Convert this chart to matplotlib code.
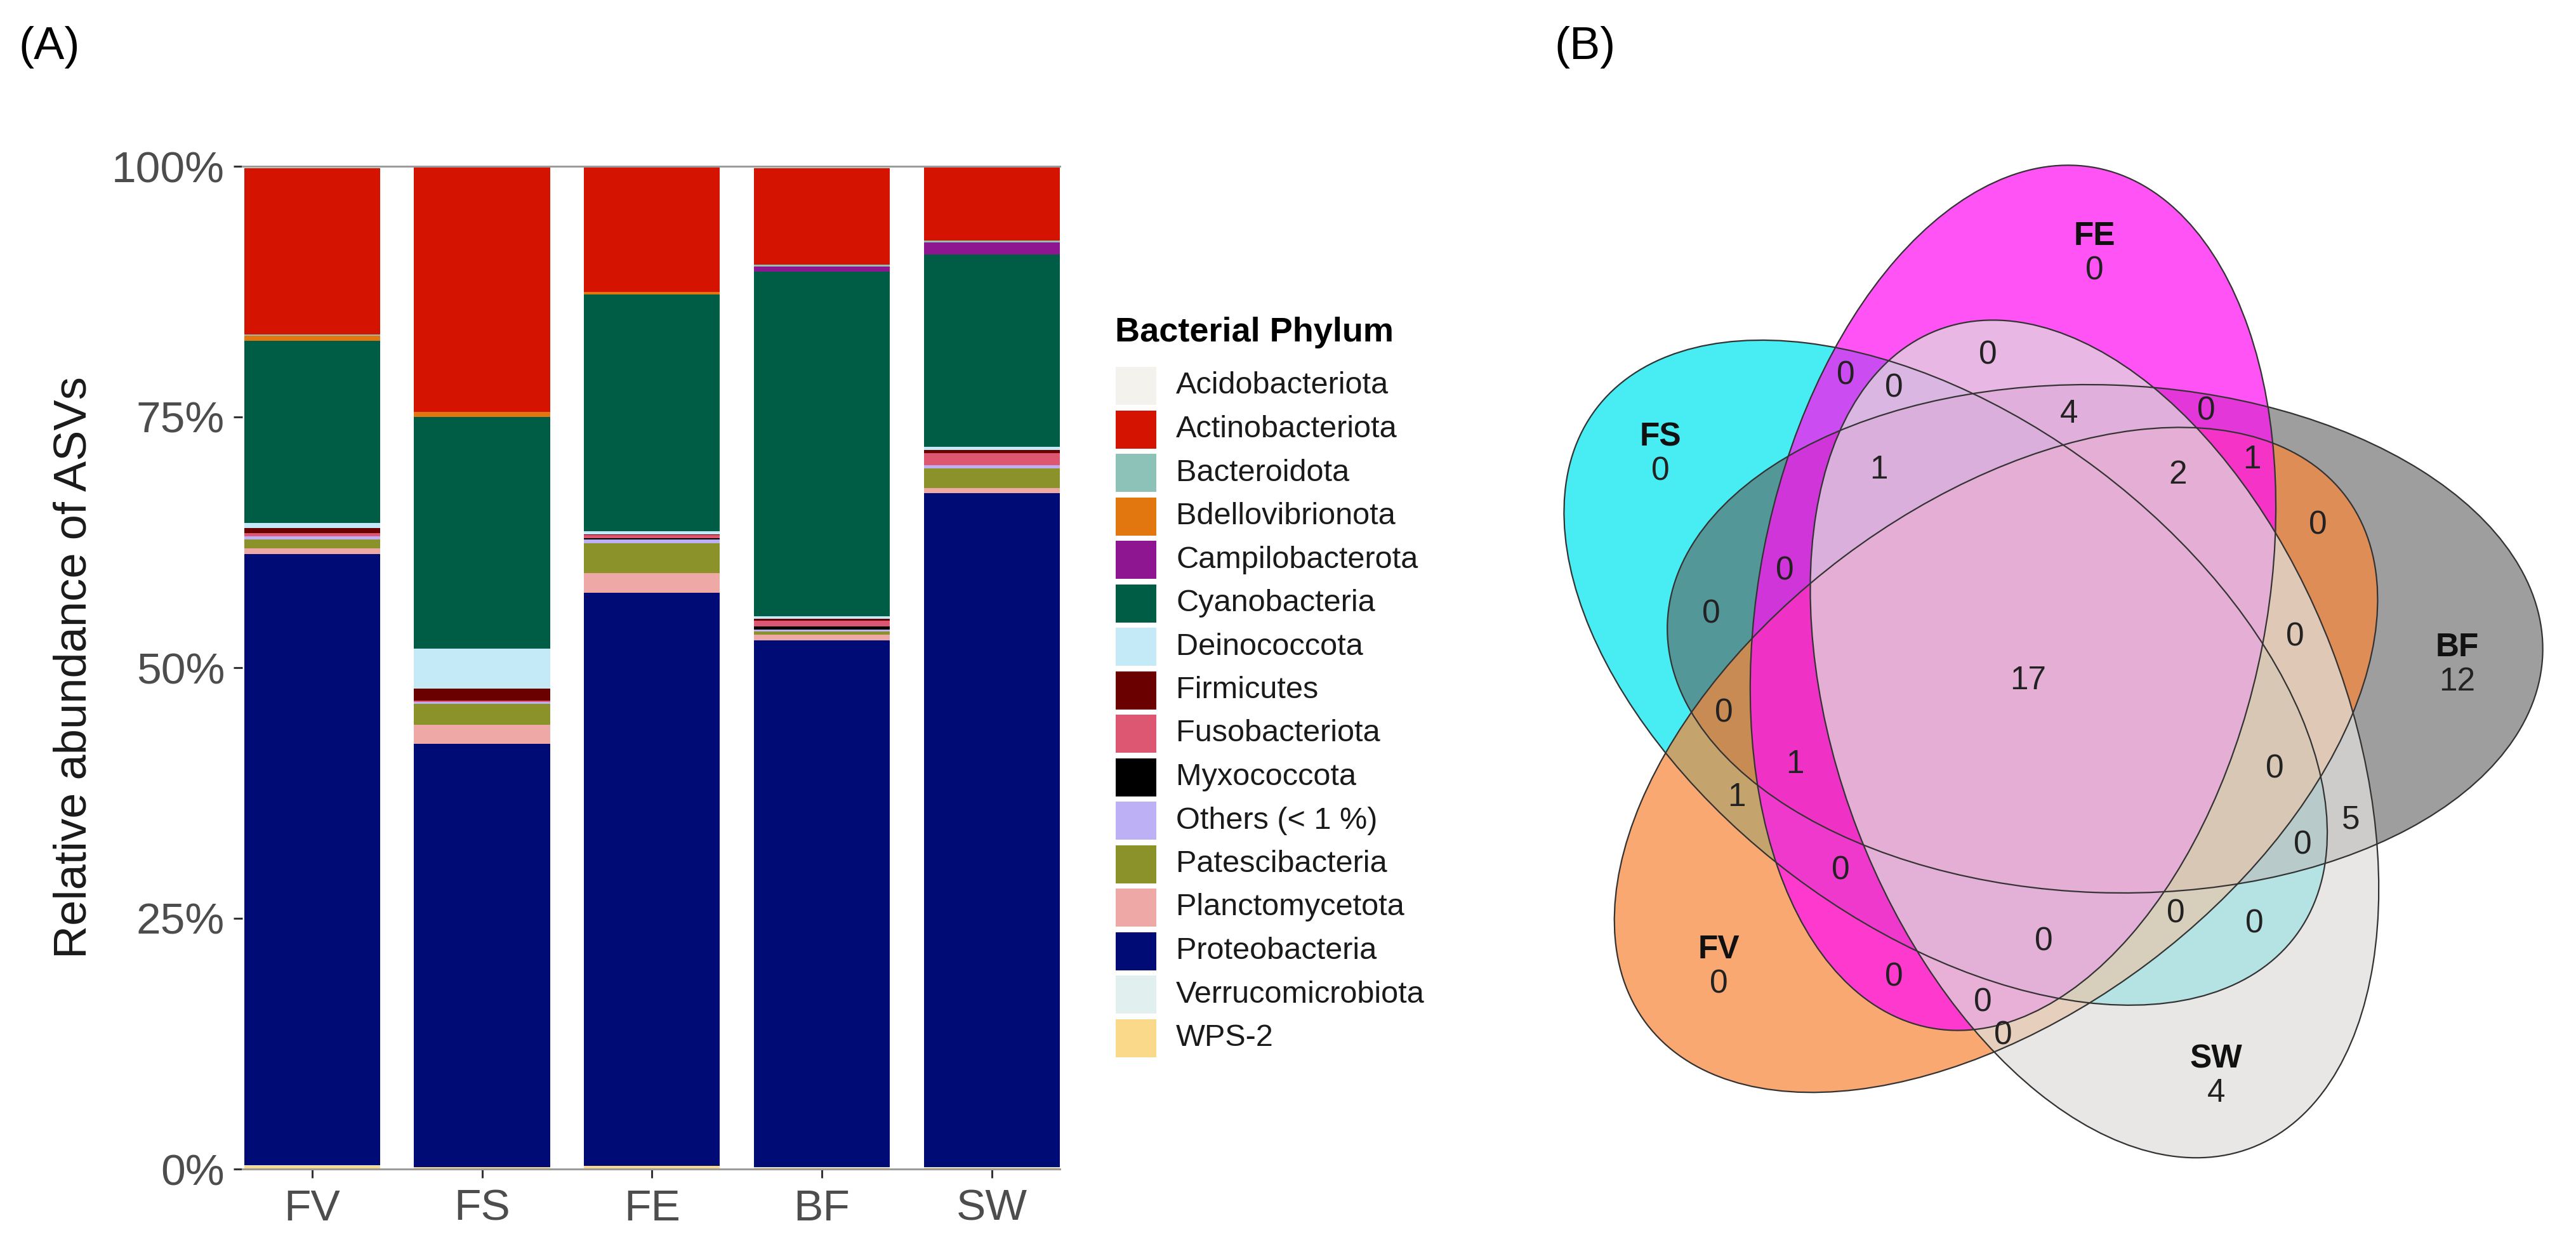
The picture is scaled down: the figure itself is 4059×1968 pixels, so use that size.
import numpy as np
import matplotlib.pyplot as plt
from matplotlib.patches import Ellipse, Rectangle

plt.rcParams['font.family'] = ['Liberation Sans', 'DejaVu Sans']

W, H = 4059, 1968
DPI = 200

# ---- (A) stacked bars: relative abundance (%) per sample ----
samples = ["FV", "FS", "FE", "BF", "SW"]
phyla = ["Acidobacteriota", "Actinobacteriota", "Bacteroidota", "Bdellovibrionota",
         "Campilobacterota", "Cyanobacteria", "Deinococcota", "Firmicutes",
         "Fusobacteriota", "Myxococcota", "Others (< 1 %)", "Patescibacteria",
         "Planctomycetota", "Proteobacteria", "Verrucomicrobiota", "WPS-2"]
phylum_colors = ["#F4F2EC", "#D41400", "#8CC2B7", "#E2760F", "#8E1691", "#005D45",
                 "#C3EAF6", "#6A0000", "#DD5672", "#000000", "#BDB0F5", "#8A9229",
                 "#EEA9A6", "#000B76", "#E1EFEE", "#FBD98B"]

acidobacteriota = [0.2, 0.0, 0.0, 0.2, 0.0]
actinobacteriota = [16.6, 24.5, 12.5, 9.6, 7.4]
bacteroidota = [0.1, 0.0, 0.0, 0.2, 0.2]
bdellovibrionota = [0.5, 0.5, 0.3, 0.0, 0.0]
campilobacterota = [0.0, 0.0, 0.0, 0.5, 1.2]
cyanobacteria = [18.2, 23.1, 23.6, 34.4, 19.2]
deinococcota = [0.5, 4.0, 0.3, 0.2, 0.3]
firmicutes = [0.5, 1.2, 0.1, 0.2, 0.3]
fusobacteriota = [0.3, 0.1, 0.3, 0.6, 1.2]
myxococcota = [0.0, 0.0, 0.1, 0.3, 0.0]
others = [0.3, 0.2, 0.4, 0.2, 0.3]
patescibacteria = [0.9, 2.1, 3.0, 0.3, 2.0]
planctomycetota = [0.6, 1.9, 1.9, 0.6, 0.5]
proteobacteria = [60.9, 42.2, 57.2, 52.5, 67.2]
verrucomicrobiota = [0.1, 0.0, 0.0, 0.1, 0.1]
wps2 = [0.3, 0.2, 0.3, 0.1, 0.1]

abundance = [acidobacteriota, actinobacteriota, bacteroidota, bdellovibrionota,
             campilobacterota, cyanobacteria, deinococcota, firmicutes,
             fusobacteriota, myxococcota, others, patescibacteria,
             planctomycetota, proteobacteria, verrucomicrobiota, wps2]

# ---- (B) Venn diagram: shared ASV counts ----
venn_sets = ["BF", "FE", "FS", "FV", "SW"]
venn_colors = ["#5E5E5E", "#FF10F2", "#00E6EF", "#F7873A", "#E0DFDC"]
venn_alpha = [0.6, 0.72, 0.72, 0.72, 0.72]
venn_draw_order = ["FS", "BF", "FV", "FE", "SW"]
venn_regions = [
    ("BF", 12), ("FE", 0), ("FS", 0), ("FV", 0), ("SW", 4),
    ("BF FE", 0), ("FE SW", 0), ("FE FS", 0), ("BF FS", 0), ("FS FV", 1),
    ("BF FV", 0), ("BF SW", 5), ("FS SW", 0), ("FV SW", 0), ("FE FV", 0),
    ("BF FE SW", 4), ("BF FE FV", 1), ("FE FS SW", 0), ("BF FE FS", 0),
    ("BF FS FV", 0), ("BF FV SW", 0), ("BF FS SW", 0), ("FS FV SW", 0),
    ("FE FV SW", 0), ("FE FS FV", 0),
    ("BF FE FV SW", 2), ("BF FE FS SW", 1), ("BF FE FS FV", 1),
    ("BF FS FV SW", 0), ("FE FS FV SW", 0),
    ("BF FE FS FV SW", 17),
]


def fx(x):
    return x / W


def fy(y):
    return 1 - y / H


fig = plt.figure(figsize=(W / DPI, H / DPI), dpi=DPI)

# bar panel
ax = fig.add_axes([fx(382), fy(1842), (1670 - 382) / W, (1842 - 262) / H])
x = np.arange(len(samples))
bottom = np.zeros(len(samples))
for name, color, vals in reversed(list(zip(phyla, phylum_colors, abundance))):
    vals = np.array(vals) / 100.0
    ax.bar(x, vals, width=0.8, bottom=bottom, color=color, linewidth=0)
    bottom += vals

ax.set_xlim(-0.41, 4.4)
ax.set_ylim(0, 1)
ax.set_xticks(x)
ax.set_xticklabels(samples)
ax.set_yticks([0, 0.25, 0.5, 0.75, 1.0])
ax.set_yticklabels(["0%", "25%", "50%", "75%", "100%"])
for side in ["left", "right"]:
    ax.spines[side].set_visible(False)
for side in ["top", "bottom"]:
    ax.spines[side].set_color("#9C9C9C")
    ax.spines[side].set_linewidth(1.1)
ax.tick_params(axis="both", length=5, width=1.1, color="#333333",
               labelcolor="#4D4D4D", labelsize=25)
ax.tick_params(axis="y", pad=5)
ax.tick_params(axis="x", pad=6)
fig.text(fx(117), fy(1052), "Relative abundance of ASVs", rotation=90,
         ha="center", va="center", fontsize=26, color="#1A1A1A")

# legend drawn by hand to sit like the ggplot guide
fig.text(fx(1757), fy(524), "Bacterial Phylum", fontsize=19.5,
         fontweight="bold", ha="left", va="center")
key_top, pitch, key_w, key_h = 578, 68.5, 64, 60
for i, (name, color) in enumerate(zip(phyla, phylum_colors)):
    top = key_top + i * pitch
    fig.add_artist(Rectangle((fx(1758), fy(top + key_h)), key_w / W, key_h / H,
                             transform=fig.transFigure, facecolor=color,
                             edgecolor="none"))
    fig.text(fx(1853), fy(top + key_h / 2), name, fontsize=17.5,
             ha="left", va="center", color="#1A1A1A")

fig.text(fx(30), fy(75), "(A)", fontsize=26, ha="left", va="center")
fig.text(fx(2450), fy(75), "(B)", fontsize=26, ha="left", va="center")

# Venn panel, axes units = pixels (y up)
vax = fig.add_axes([fx(2250), 0, (W - 2250) / W, 1])
vax.set_xlim(2250, W)
vax.set_ylim(0, H)
vax.axis("off")

G = np.array([3200.0, 894.0])
r_off, off_ang, ax_ang = 135.0, 30.0, 1.0
tilt = [-3.0, 6.0, -2.0, 0.0, 2.0]   # small per-ellipse tilt seen in the figure
ea, eb = 690.0, 400.0

geom = {}
for k, name in enumerate(venn_sets):
    t = np.deg2rad(off_ang + 72 * k)
    c = G + r_off * np.array([np.cos(t), np.sin(t)])
    geom[name] = (c, ax_ang + 72 * k + tilt[k])

for name in venn_draw_order:
    c, ang = geom[name]
    k = venn_sets.index(name)
    vax.add_patch(Ellipse(c, 2 * ea, 2 * eb, angle=ang, facecolor=venn_colors[k],
                          edgecolor="none", alpha=venn_alpha[k]))
for name in venn_draw_order:
    c, ang = geom[name]
    vax.add_patch(Ellipse(c, 2 * ea, 2 * eb, angle=ang, fill=False,
                          edgecolor="#333333", linewidth=0.8))

# find a label spot inside every region (deepest grid point)
gx, gy = np.meshgrid(np.arange(2260, 4050, 4.0), np.arange(60, 1900, 4.0))
codes = np.zeros(gx.shape, dtype=int)
depth = np.full(gx.shape, np.inf)
for k, name in enumerate(venn_sets):
    c, ang = geom[name]
    th = np.deg2rad(ang)
    dx, dy = gx - c[0], gy - c[1]
    u = dx * np.cos(th) + dy * np.sin(th)
    v = -dx * np.sin(th) + dy * np.cos(th)
    s = np.sqrt((u / ea) ** 2 + (v / eb) ** 2)
    grad = np.sqrt((u / ea ** 2) ** 2 + (v / eb ** 2) ** 2) / np.maximum(s, 1e-9)
    depth = np.minimum(depth, np.abs(s - 1) / np.maximum(grad, 1e-9))
    codes |= (s < 1).astype(int) << k

for members, count in venn_regions:
    code = sum(1 << venn_sets.index(m) for m in members.split())
    mask = codes == code
    if not mask.any():
        continue
    d = np.where(mask, depth, -1)
    iy, ix = np.unravel_index(np.argmax(d), d.shape)
    px, py = gx[iy, ix], gy[iy, ix]
    if len(members.split()) == 1:
        vax.text(px, py + 27, members, ha="center", va="center", fontsize=18.5,
                 fontweight="bold", color="#111111")
        vax.text(px, py - 27, str(count), ha="center", va="center",
                 fontsize=18.5, color="#222222")
    else:
        vax.text(px, py, str(count), ha="center", va="center", fontsize=18.5,
                 color="#222222")

fig.savefig("out.png", dpi=DPI)
